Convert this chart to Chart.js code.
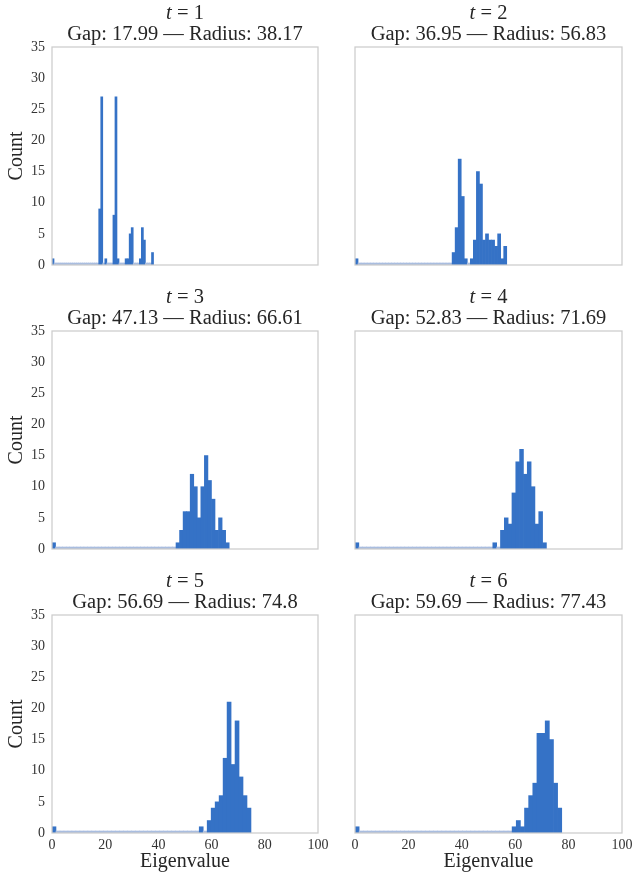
<!DOCTYPE html>
<html>
<head>
<meta charset="utf-8">
<script src="https://cdn.jsdelivr.net/npm/chart.js@4.4.1/dist/chart.umd.min.js"></script>
<style>
  html, body { margin: 0; padding: 0; background: #fff; overflow: hidden; }
  #fig { position: relative; width: 632px; height: 872px; }
  #fig canvas { position: absolute; }
</style>
</head>
<body>
<div id="fig"></div>
<script>
// one panel per step t
const steps = [1, 2, 3, 4, 5, 6];
const gaps = ['17.99', '36.95', '47.13', '52.83', '56.69', '59.69'];
const radii = [38.17, 56.83, 66.61, 71.69, 74.8, 77.43];

const xTicks = [0, 20, 40, 60, 80, 100];
const yTicks = [0, 5, 10, 15, 20, 25, 30, 35];

// histogram counts, 50 equal bins from 0 up to the radius
const NBINS = 50;
const countsT1 = [
  1, 0, 0, 0, 0, 0, 0, 0, 0, 0,
  0, 0, 0, 0, 0, 0, 0, 0, 0, 0,
  0, 0, 0, 9, 27, 0, 1, 0, 0, 0,
  8, 27, 1, 0, 0, 0, 1, 1, 5, 6,
  0, 0, 0, 1, 6, 4, 0, 0, 0, 2
];
const countsT2 = [
  1, 0, 0, 0, 0, 0, 0, 0, 0, 0,
  0, 0, 0, 0, 0, 0, 0, 0, 0, 0,
  0, 0, 0, 0, 0, 0, 0, 0, 0, 0,
  0, 0, 2, 6, 17, 11, 1, 0, 1, 4,
  15, 13, 4, 5, 4, 4, 3, 5, 1, 3
];
const countsT3 = [
  1, 0, 0, 0, 0, 0, 0, 0, 0, 0,
  0, 0, 0, 0, 0, 0, 0, 0, 0, 0,
  0, 0, 0, 0, 0, 0, 0, 0, 0, 0,
  0, 0, 0, 0, 0, 1, 3, 6, 6, 12,
  10, 5, 10, 15, 11, 8, 3, 5, 3, 1
];
const countsT4 = [
  1, 0, 0, 0, 0, 0, 0, 0, 0, 0,
  0, 0, 0, 0, 0, 0, 0, 0, 0, 0,
  0, 0, 0, 0, 0, 0, 0, 0, 0, 0,
  0, 0, 0, 0, 0, 0, 1, 0, 3, 5,
  4, 9, 14, 16, 12, 14, 10, 4, 6, 1
];
const countsT5 = [
  1, 0, 0, 0, 0, 0, 0, 0, 0, 0,
  0, 0, 0, 0, 0, 0, 0, 0, 0, 0,
  0, 0, 0, 0, 0, 0, 0, 0, 0, 0,
  0, 0, 0, 0, 0, 0, 0, 1, 0, 2,
  4, 5, 6, 12, 21, 11, 18, 9, 6, 4
];
const countsT6 = [
  1, 0, 0, 0, 0, 0, 0, 0, 0, 0,
  0, 0, 0, 0, 0, 0, 0, 0, 0, 0,
  0, 0, 0, 0, 0, 0, 0, 0, 0, 0,
  0, 0, 0, 0, 0, 0, 0, 0, 1, 2,
  1, 4, 6, 8, 16, 16, 18, 15, 8, 4
];
const allCounts = [countsT1, countsT2, countsT3, countsT4, countsT5, countsT6];

const BAR = '#3572c6';
const ZERO_BAR = '#a9bddf';
const TEXT = '#262626';
const SERIF = '"Liberation Serif", "Times New Roman", serif';

// frame + two-line panel title
const panelDecor = {
  id: 'panelDecor',
  afterDatasetsDraw(chart) {
    const { ctx, chartArea: a } = chart;
    ctx.save();
    ctx.strokeStyle = '#cccccc';
    ctx.lineWidth = 1.25;
    ctx.strokeRect(a.left, a.top, a.right - a.left, a.bottom - a.top);
    ctx.restore();
  },
  afterDraw(chart, args, opts) {
    const { ctx, chartArea: a } = chart;
    const cx = (a.left + a.right) / 2;
    ctx.save();
    ctx.fillStyle = TEXT;
    ctx.textBaseline = 'middle';

    // first line: italic t, upright "= n"
    const fIt = 'italic 20.5px ' + SERIF;
    const fUp = '20.5px ' + SERIF;
    const rest = ' = ' + opts.step;
    ctx.font = fIt;
    const wt = ctx.measureText('t').width;
    ctx.font = fUp;
    const wr = ctx.measureText(rest).width;
    const x = cx - (wt + wr) / 2;
    ctx.textAlign = 'left';
    ctx.font = fIt;
    ctx.fillText('t', x, 14);
    ctx.font = fUp;
    ctx.fillText(rest, x + wt, 14);

    // second line
    ctx.textAlign = 'center';
    ctx.fillText('Gap: ' + opts.gap + ' \u2014 Radius: ' + opts.radius, cx, 35);
    ctx.restore();
  }
};

const fig = document.getElementById('fig');

steps.forEach((t, i) => {
  const col = i % 2;
  const row = Math.floor(i / 2);
  const isLeft = col === 0;
  const isBottom = row === 2;

  const canvas = document.createElement('canvas');
  const w = isLeft ? 340 : 312;
  const h = isBottom ? 304 : 284;
  canvas.width = w;
  canvas.height = h;
  canvas.style.left = (isLeft ? 0 : 320) + 'px';
  canvas.style.top = (row * 284) + 'px';
  canvas.style.width = w + 'px';
  canvas.style.height = h + 'px';
  fig.appendChild(canvas);

  const R = radii[i];
  const points = allCounts[i].map((c, k) => ({ x: (k + 0.5) * R / NBINS, y: c }));

  new Chart(canvas, {
    type: 'bar',
    data: {
      datasets: [{
        data: points,
        backgroundColor: ctx => (ctx.raw && ctx.raw.y === 0 ? ZERO_BAR : BAR),
        borderWidth: 0,
        barPercentage: 1,
        categoryPercentage: 1,
        minBarLength: 2
      }]
    },
    options: {
      responsive: false,
      animation: false,
      devicePixelRatio: 1,
      layout: {
        padding: {
          top: 47,
          left: isLeft ? 0 : 35,
          right: isLeft ? 22 : 10,
          bottom: isBottom ? 0 : 19
        }
      },
      plugins: {
        legend: { display: false },
        tooltip: { enabled: false },
        panelDecor: { step: t, gap: gaps[i], radius: String(R) }
      },
      scales: {
        x: {
          type: 'linear',
          offset: false,
          min: xTicks[0],
          max: xTicks[xTicks.length - 1],
          display: isBottom,
          grid: { display: false, drawTicks: false, offset: false },
          border: { display: false },
          afterBuildTicks: s => { s.ticks = xTicks.map(v => ({ value: v })); },
          ticks: {
            padding: 4,
            maxRotation: 0,
            color: '#333',
            font: { family: SERIF, size: 14 }
          },
          title: {
            display: isBottom,
            text: 'Eigenvalue',
            color: TEXT,
            font: { family: SERIF, size: 20 },
            padding: { top: 0, bottom: -2 }
          },
          afterFit: s => {
            if (isBottom) s.height = 39;
            s.paddingLeft = 0;
            s.paddingRight = 0;
          }
        },
        y: {
          min: yTicks[0],
          max: yTicks[yTicks.length - 1],
          display: isLeft,
          grid: { display: false, drawTicks: false },
          border: { display: false },
          afterBuildTicks: s => { s.ticks = yTicks.map(v => ({ value: v })); },
          ticks: {
            padding: 7,
            color: '#333',
            font: { family: SERIF, size: 14 }
          },
          title: {
            display: isLeft,
            text: 'Count',
            color: TEXT,
            font: { family: SERIF, size: 20 },
            padding: { top: 5, bottom: 0 }
          },
          afterFit: s => {
            if (isLeft) s.width = 52;
            s.paddingTop = 0;
            s.paddingBottom = 0;
          }
        }
      }
    },
    plugins: [panelDecor]
  });
});
</script>
</body>
</html>
